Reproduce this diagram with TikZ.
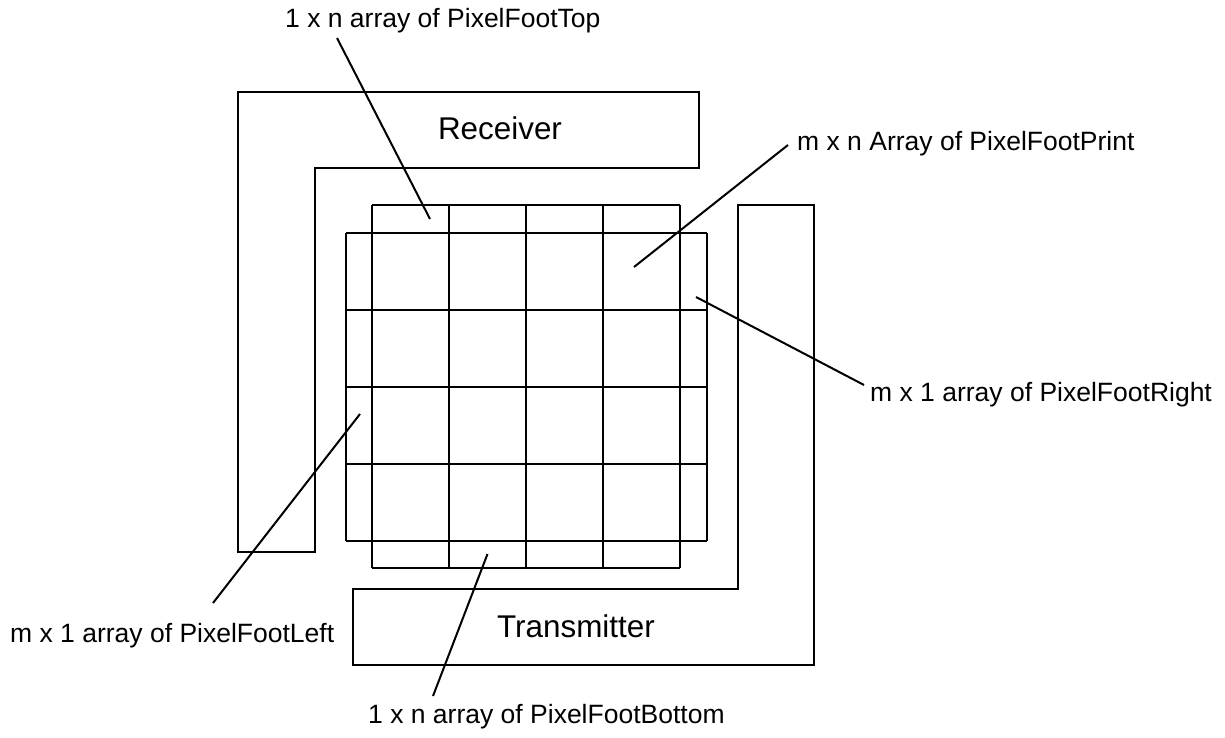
\documentclass[tikz,border=0pt]{standalone}
\usepackage{fontspec}
\setmainfont{Liberation Sans}
\begin{document}
\begin{tikzpicture}[x=1pt, y=-1pt]
        \tikzstyle{edge}=[line width=2pt, line join=miter]
        \tikzstyle{note}=[inner sep=0pt, anchor=base west,
            font=\fontsize{26.5}{30}\selectfont]
        \tikzstyle{unit}=[inner sep=0pt, anchor=base,
            font=\fontsize{31.4}{36}\selectfont]

        \useasboundingbox (0,0) rectangle (1225,738);

        % receiver and transmitter
        \draw[edge] (238,92) -- (699,92) -- (699,168) -- (315,168)
            -- (315,552) -- (238,552) -- cycle;
        \draw[edge] (738,205) -- (814,205) -- (814,665) -- (353,665)
            -- (353,589) -- (738,589) -- cycle;
        \node[unit] (rx) at (500,140) {Receiver};
        \node[unit] (tx) at (576,637) {Transmitter};

        % pixel grid
        \foreach \i in {0,...,4} {
            \draw[edge] (372+77*\i,205) -- (372+77*\i,568);
            \draw[edge] (346,233+77*\i) -- (707,233+77*\i);
        }
        \draw[edge] (372,205) -- (680,205);
        \draw[edge] (372,568) -- (680,568);
        \draw[edge] (346,233) -- (346,541);
        \draw[edge] (707,233) -- (707,541);

        \node[note] (lblTop) at (285,28) {1 x n array of PixelFootTop};
        \node[note] (lblPrint) at (797,150.7) {m x n Array of PixelFootPrint};
        \node[note] (lblRight) at (870,401) {m x 1 array of PixelFootRight};
        \node[note] (lblLeft) at (10,642) {m x 1 array of PixelFootLeft};
        \node[note] (lblBottom) at (368,723) {1 x n array of PixelFootBottom};

        \coordinate (tTop) at (337,38);
        \coordinate (cTop) at (430,219);
        \coordinate (tPrint) at (788,145);
        \coordinate (cPrint) at (634,267);
        \coordinate (tRight) at (864,385);
        \coordinate (cRight) at (696,297);
        \coordinate (tLeft) at (213,603);
        \coordinate (cLeft) at (360,414);
        \coordinate (tBottom) at (433,696);
        \coordinate (cBottom) at (487.5,554);

        \draw[edge] (tTop) to (cTop);
        \draw[edge] (tPrint) to (cPrint);
        \draw[edge] (tRight) to (cRight);
        \draw[edge] (tLeft) to (cLeft);
        \draw[edge] (tBottom) to (cBottom);
    \end{tikzpicture}
\end{document}
